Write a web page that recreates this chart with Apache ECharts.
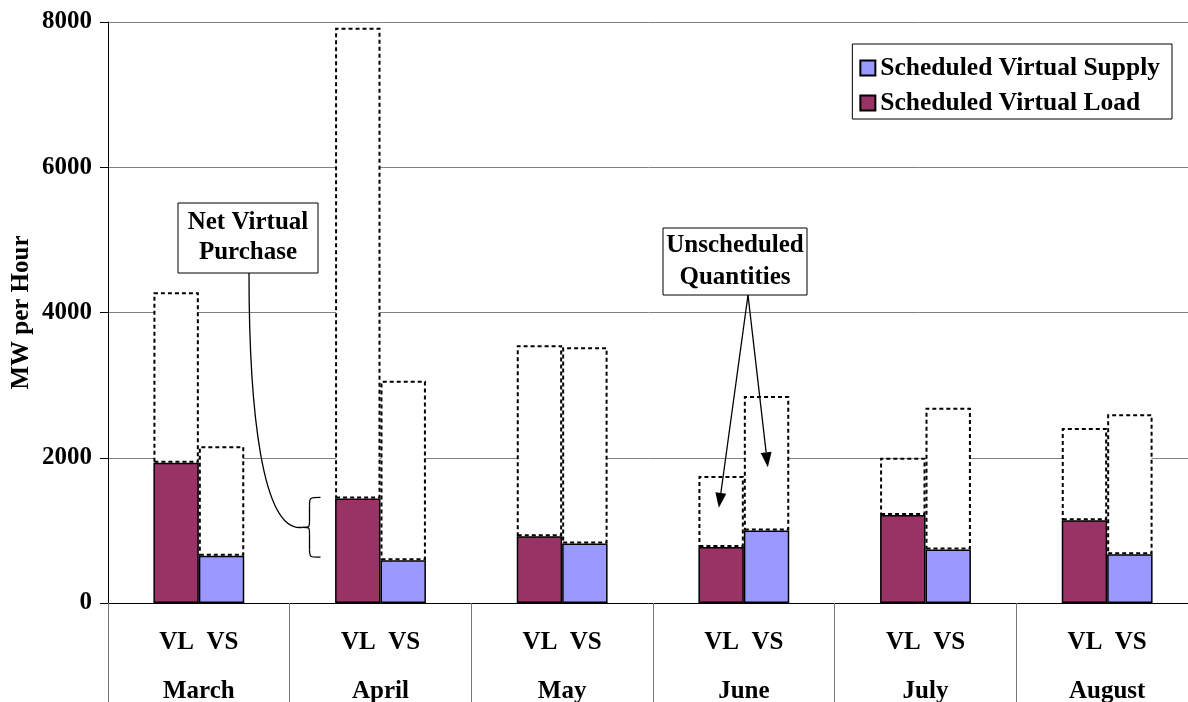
<!DOCTYPE html>
<html>
<head>
<meta charset="utf-8">
<script src="https://cdn.jsdelivr.net/npm/echarts@6/dist/echarts.min.js"></script>
<style>
  html, body { margin: 0; padding: 0; background: #fff; }
  #chart { width: 1188px; height: 702px; }
</style>
</head>
<body>
<div id="chart"></div>
<script>
// Monthly virtual bids: scheduled quantities and total offered (scheduled + unscheduled)
const months = ['March', 'April', 'May', 'June', 'July', 'August'];
const vlScheduled = [1930, 1440, 920, 770, 1210, 1140];
const vsScheduled = [650, 590, 820, 1000, 735, 670];
const vlTotal = [4280, 7920, 3550, 1750, 2000, 2410];
const vsTotal = [2160, 3060, 3520, 2850, 2690, 2600];
const yTicks = [0, 2000, 4000, 6000, 8000];

const FONT = '"Liberation Serif", "Times New Roman", serif';
const vlUnscheduled = vlTotal.map((t, i) => t - vlScheduled[i]);
const vsUnscheduled = vsTotal.map((t, i) => t - vsScheduled[i]);

const chart = echarts.init(document.getElementById('chart'), null, { renderer: 'canvas' });

const solidBorder = { borderColor: '#000', borderWidth: 1.5 };
const dottedStyle = { color: '#fff', borderColor: '#000', borderWidth: 2, borderType: [4, 3] };

chart.setOption({
  animation: false,
  backgroundColor: '#fff',
  grid: { left: 108, right: -10, top: 22, bottom: 99, containLabel: false, outerBoundsMode: 'none' },
  legend: {
    data: ['Scheduled Virtual Supply', 'Scheduled Virtual Load'],
    orient: 'vertical',
    right: 16,
    top: 44,
    padding: [10, 12, 2, 7],
    itemGap: 7,
    itemWidth: 15,
    itemHeight: 15,
    icon: 'rect',
    backgroundColor: '#fff',
    borderColor: '#000',
    borderWidth: 1,
    borderRadius: 0,
    textStyle: { fontFamily: FONT, fontWeight: 'bold', fontSize: 25.5, color: '#000', lineHeight: 28 },
    selectedMode: false
  },
  xAxis: {
    type: 'category',
    data: months,
    axisLine: { lineStyle: { color: '#000', width: 1 } },
    axisTick: { show: true, length: 99, interval: 0, lineStyle: { color: '#777' } },
    axisLabel: {
      interval: 0,
      margin: 15,
      formatter: v => '{a|VL  VS}\n{b|' + v + '}',
      rich: {
        a: { fontFamily: FONT, fontWeight: 'bold', fontSize: 25, color: '#000', lineHeight: 49 },
        b: { fontFamily: FONT, fontWeight: 'bold', fontSize: 25, color: '#000', lineHeight: 49 }
      }
    }
  },
  yAxis: {
    type: 'value',
    min: yTicks[0],
    max: yTicks[yTicks.length - 1],
    interval: yTicks[1] - yTicks[0],
    name: 'MW per Hour',
    nameLocation: 'middle',
    nameGap: 74,
    nameMoveOverlap: false,
    nameTextStyle: { fontFamily: FONT, fontWeight: 'bold', fontSize: 25, color: '#000' },
    axisLine: { show: true, lineStyle: { color: '#000', width: 1 } },
    axisTick: { show: true, length: 8, lineStyle: { color: '#000' } },
    axisLabel: {
      margin: 16, fontFamily: FONT, fontWeight: 'bold', fontSize: 25, color: '#000',
      formatter: v => String(v)
    },
    splitLine: { show: true, lineStyle: { color: '#808080', width: 1 } }
  },
  series: [
    {
      name: 'Scheduled Virtual Load', type: 'bar', stack: 'vl',
      barCategoryGap: '50%', barGap: '0%',
      data: vlScheduled,
      itemStyle: Object.assign({ color: '#993366' }, solidBorder)
    },
    {
      name: 'Scheduled Virtual Supply', type: 'bar', stack: 'vs',
      barCategoryGap: '50%', barGap: '0%',
      data: vsScheduled,
      itemStyle: Object.assign({ color: '#9999FF' }, solidBorder)
    },
    {
      name: 'Unscheduled Virtual Load', type: 'bar', stack: 'vl',
      barCategoryGap: '50%', barGap: '0%',
      data: vlUnscheduled,
      itemStyle: dottedStyle
    },
    {
      name: 'Unscheduled Virtual Supply', type: 'bar', stack: 'vs',
      barCategoryGap: '50%', barGap: '0%',
      data: vsUnscheduled,
      itemStyle: dottedStyle
    }
  ]
});

// Annotations: callout boxes, the brace spanning April's net purchase, and arrows into June's unscheduled bars
function yPx(v) { return chart.convertToPixel({ yAxisIndex: 0 }, v); }
function xPx(c) { return chart.convertToPixel({ xAxisIndex: 0 }, c); }

const textFont = { fontFamily: FONT, fontWeight: 'bold', fontSize: 25, fill: '#000' };
const stroke = { fill: null, stroke: '#000', lineWidth: 1.3 };

function calloutBox(x, y, w, h, lines, lineGap) {
  const children = [{
    type: 'rect',
    shape: { x: x, y: y, width: w, height: h },
    style: { fill: '#fff', stroke: '#000', lineWidth: 1 }
  }];
  const mid = y + h / 2;
  lines.forEach((t, i) => {
    children.push({
      type: 'text',
      style: Object.assign({
        text: t, x: x + w / 2, y: mid + (i - (lines.length - 1) / 2) * lineGap,
        textAlign: 'center', textVerticalAlign: 'middle'
      }, textFont)
    });
  });
  return { type: 'group', children: children, z: 100 };
}

function arrow(x0, y0, x1, y1) {
  const ang = Math.atan2(y1 - y0, x1 - x0);
  const len = 15, half = 5.5;
  const bx = x1 - len * Math.cos(ang), by = y1 - len * Math.sin(ang);
  const px = -Math.sin(ang) * half, py = Math.cos(ang) * half;
  return [
    { type: 'line', shape: { x1: x0, y1: y0, x2: bx, y2: by }, style: { stroke: '#000', lineWidth: 1.3 }, z: 100 },
    { type: 'polygon', shape: { points: [[x1, y1], [bx + px, by + py], [bx - px, by - py]] }, style: { fill: '#000' }, z: 100 }
  ];
}

// quadratic-looking segment drawn as a cubic with coincident control points
function qseg(x1, y1, cx, cy, x2, y2) {
  return { type: 'bezierCurve', z: 100, shape: { x1: x1, y1: y1, cpx1: cx, cpy1: cy, cpx2: cx, cpy2: cy, x2: x2, y2: y2 }, style: stroke };
}
function seg(x1, y1, x2, y2) {
  return { type: 'line', z: 100, shape: { x1: x1, y1: y1, x2: x2, y2: y2 }, style: stroke };
}

const aprX = xPx('April');
const braceTop = yPx(vlScheduled[1]) - 1;
const braceBot = yPx(vsScheduled[1]) - 3;
const braceMid = (braceTop + braceBot) / 2;
const spine = aprX - 71, hook = aprX - 60, tip = aprX - 78;
const brace = [
  qseg(hook, braceTop, spine, braceTop, spine, braceTop + 8),
  seg(spine, braceTop + 8, spine, braceMid - 6),
  qseg(spine, braceMid - 6, spine, braceMid, tip, braceMid),
  qseg(tip, braceMid, spine, braceMid, spine, braceMid + 6),
  seg(spine, braceMid + 6, spine, braceBot - 8),
  qseg(spine, braceBot - 8, spine, braceBot, hook, braceBot)
];

const nvpBox = { x: 178, y: 203, w: 140, h: 70 };
const uqBox = { x: 663, y: 228, w: 144, h: 67 };
const junX = xPx('June');
const uqStart = [748, uqBox.y + uqBox.h];

const graphics = [
  calloutBox(nvpBox.x, nvpBox.y, nvpBox.w, nvpBox.h, ['Net Virtual', 'Purchase'], 30),
  {
    type: 'bezierCurve', z: 100,
    shape: {
      x1: 249, y1: nvpBox.y + nvpBox.h,
      cpx1: 249, cpy1: 410,
      cpx2: 262, cpy2: braceMid + 6,
      x2: tip, y2: braceMid
    },
    style: stroke
  },
  calloutBox(uqBox.x, uqBox.y, uqBox.w, uqBox.h, ['Unscheduled', 'Quantities'], 32)
].concat(
  brace,
  arrow(uqStart[0], uqStart[1], junX - 25, yPx(1310)),
  arrow(uqStart[0], uqStart[1], junX + 24, yPx(1870))
);

chart.setOption({ graphic: graphics });
</script>
</body>
</html>
